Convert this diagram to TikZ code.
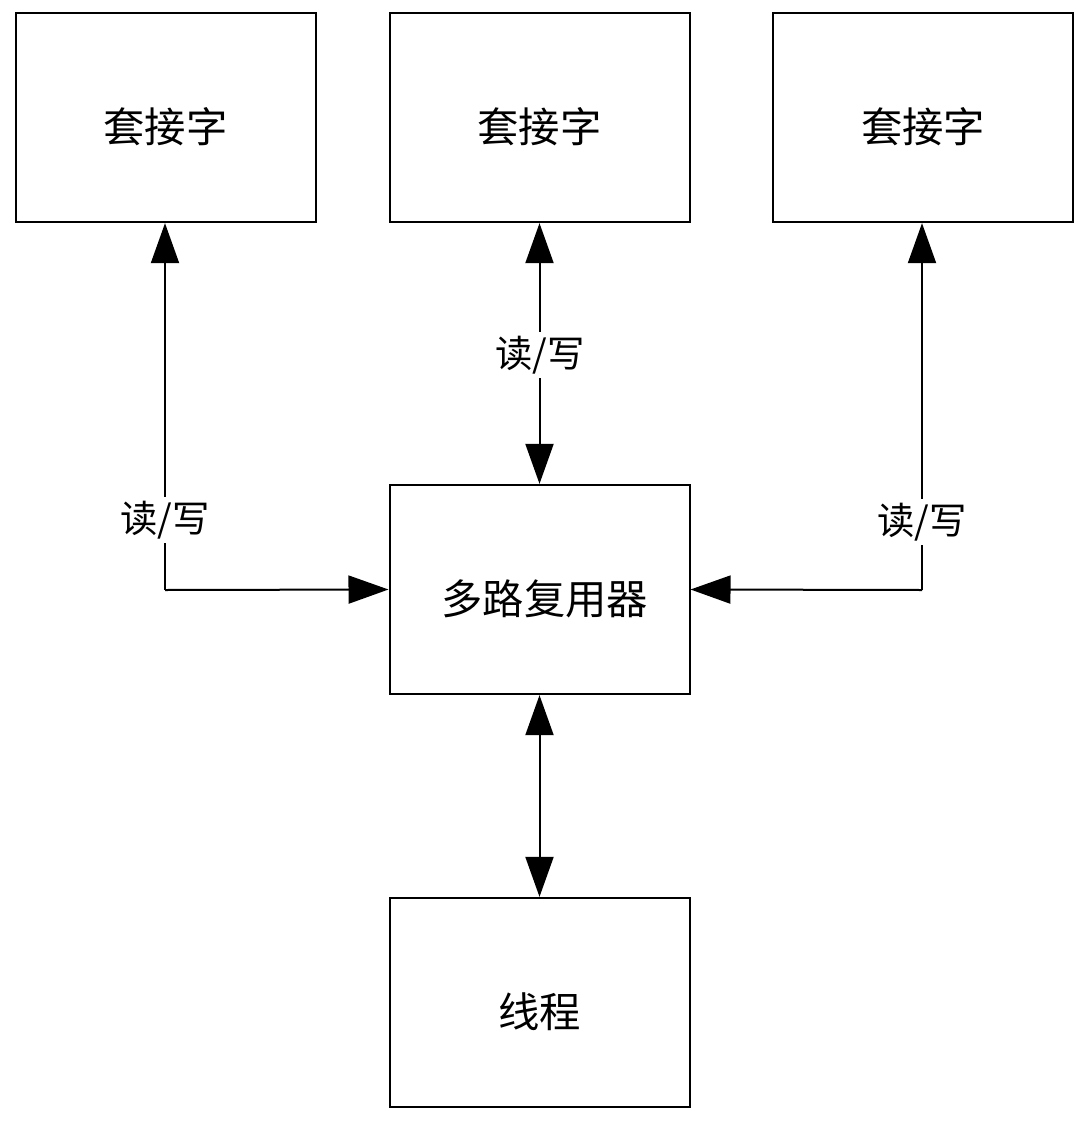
\documentclass[tikz,border=0pt]{standalone}
\usepackage{fontspec}
\setmainfont{Liberation Serif}
\newfontfamily\cjk{Noto Sans CJK SC}
\usetikzlibrary{arrows.meta}
\newcommand{\lowtxt}[1]{\raisebox{-7pt}[\height][\depth]{#1}}
\begin{document}
\begin{tikzpicture}[x=0.75pt,y=-0.75pt,
  box/.style={draw,line width=1.5pt,minimum width=225pt,minimum height=157pt,inner sep=0pt,font=\cjk\fontsize{31}{35}\selectfont},
  lbl/.style={fill=white,inner sep=3pt,font=\cjk\fontsize{28}{32}\selectfont},
  conn/.style={line width=1.5pt,-{Triangle[length=30pt,width=21pt]}},
  dconn/.style={line width=1.5pt,{Triangle[length=30pt,width=21pt]}-{Triangle[length=30pt,width=21pt]}}]
\useasboundingbox (0,0) rectangle (1088,1124);
\node[box] (s1) at (165.5,117.5) {\lowtxt{套接字}};
\node[box] (s2) at (539.5,117.5) {\lowtxt{套接字}};
\node[box] (s3) at (923,117.5) {\lowtxt{套接字}};
\node[box] (mx) at (539.5,589.5) {\hspace{8pt}\lowtxt{多路复用器}};
\node[box] (th) at (539.5,1002.5) {\lowtxt{线程}};
\coordinate (cl) at (165,590);
\coordinate (cr) at (922,590);
\draw[conn] (cl) -- (s1.south -| cl);
\draw[conn] (cl) -- (mx.west);
\draw[conn] (cr) -- (s3.south -| cr);
\draw[conn] (cr) -- (mx.east);
\draw[dconn] (s2.south) -- (mx.north);
\draw[dconn] (mx.south) -- (th.north);
\node[lbl] (l1) at (165,520) {读/写};
\node[lbl] (l2) at (540,355) {读/写};
\node[lbl] (l3) at (922,522) {读/写};
\end{tikzpicture}
\end{document}
